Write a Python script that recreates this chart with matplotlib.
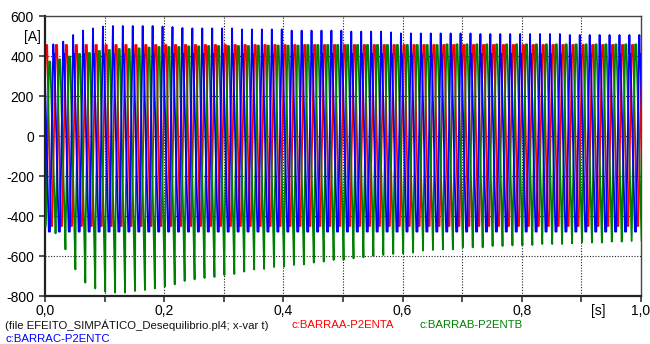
import matplotlib
matplotlib.use('Agg')
import matplotlib.pyplot as plt
import numpy as np

plt.rcParams['font.family'] = ['Liberation Sans', 'DejaVu Sans']

FREQ = 60.0
T = 1.0 / FREQ

# phase A (red): clipped wave, flat top / flat bottom
red_first_peak = 0.0025
red_top = 455
red_bottom = -450

# phase B (green): negative spike each cycle, decaying slowly
green_first_spike = 0.001
green_spike = [-453, -487, -567, -667, -733, -762, -778, -783, -783, -775,
               -770, -762, -753, -742, -725, -717, -710, -705, -695, -690,
               -678, -667, -665, -655, -653, -645, -642, -633, -628, -620,
               -620, -612, -607, -600, -595, -590, -587, -583, -573, -570,
               -567, -567, -557, -557, -557, -550, -550, -547, -547, -545,
               -540, -540, -540, -537, -533, -533, -533, -528, -528, -525,
               -525]
green_top = [372, 383, 397, 410, 415, 425, 430, 435, 435, 438,
             442, 445, 445, 445, 448, 448, 450, 450, 450, 450,
             450, 452, 452, 452, 452, 452, 455, 455, 455, 455,
             455, 455, 455, 455, 455, 455, 455, 455, 455, 455,
             458, 458, 458, 458, 458, 458, 458, 458, 458, 458,
             458, 458, 458, 458, 458, 458, 458, 458, 458, 458,
             458]
green_floor = -440

# phase C (blue): positive spike each cycle
blue_first_peak = 0.0139
blue_peak = [458, 472, 505, 527, 538, 547, 550, 550, 550, 550,
             550, 547, 545, 540, 538, 538, 538, 538, 538, 533,
             533, 533, 533, 533, 527, 527, 527, 527, 527, 527,
             522, 522, 522, 522, 518, 513, 513, 513, 513, 513,
             513, 513, 513, 510, 510, 510, 510, 510, 510, 510,
             510, 510, 505, 505, 505, 505, 505, 505, 505, 505]
blue_shoulder = 410
blue_bottom = -478

x_ticks = [0.0, 0.1, 0.2, 0.3, 0.4, 0.5, 0.6, 0.7, 0.8, 0.9, 1.0]
x_labels = ['0,0', '', '0,2', '', '0,4', '', '0,6', '', '0,8', '', '1,0']
y_ticks = [-800, -600, -400, -200, 0, 200, 400, 600]


def red_wave():
    t, v = [], []
    for k in range(-1, 61):
        c = red_first_peak + k * T
        t += [c - 0.07 * T, c + 0.07 * T, c + 0.43 * T, c + 0.57 * T]
        v += [red_top, red_top, red_bottom, red_bottom]
    return t, v


def green_wave():
    t, v = [], []
    for k in range(len(green_spike)):
        s = green_first_spike + k * T
        t += [s, s + 0.03 * T, s + 0.35 * T, s + 0.47 * T]
        v += [green_spike[k], green_floor, green_top[k], green_top[k]]
    return t, v


def blue_wave():
    t, v = [], []
    for k in range(-1, 61):
        c = blue_first_peak + k * T
        p = blue_peak[min(max(k, 0), len(blue_peak) - 1)]
        t += [c - 0.33 * T, c, c + 0.03 * T, c + 0.1 * T, c + 0.55 * T]
        v += [blue_bottom, p, blue_shoulder, blue_shoulder, blue_bottom]
    return t, v


fig = plt.figure(figsize=(6.5, 3.44), dpi=100)
ax = fig.add_axes([45 / 650, 1 - 296 / 344, 596 / 650, 280 / 344])

for y in [-600, -400, -200, 0, 200, 400]:
    ax.axhline(y, color='#222222', lw=0.8, ls=(0, (1, 1.5)), zorder=1)
for x in [0.1, 0.2, 0.3, 0.4, 0.5, 0.6, 0.7, 0.8, 0.9]:
    ax.axvline(x, color='#222222', lw=0.8, ls=(0, (1, 1.5)), zorder=1)

tr, vr = red_wave()
tg, vg = green_wave()
tb, vb = blue_wave()
ax.plot(tr, vr, color='#ff0000', lw=1.3, zorder=2)
ax.plot(tg, vg, color='#008000', lw=1.3, zorder=3)
ax.plot(tb, vb, color='#0000ff', lw=1.3, zorder=4)

ax.set_xlim(0, 1)
ax.set_ylim(-800, 600)
ax.set_xticks(x_ticks)
ax.set_xticklabels(x_labels)
ax.set_yticks(y_ticks)
ax.set_yticklabels([str(y) for y in y_ticks])
ax.tick_params(direction='out', length=4, width=1.2, color='#333333',
               labelsize=10)
ax.tick_params(axis='x', pad=1.5)
ax.tick_params(axis='y', pad=4)
for side in ['left', 'bottom']:
    ax.spines[side].set_linewidth(1.6)
    ax.spines[side].set_color('#222222')
for side in ['top', 'right']:
    ax.spines[side].set_linewidth(1.0)
    ax.spines[side].set_color('#444444')

fig.text(41 / 650, 1 - 37.5 / 344, '[A]', ha='right', va='center', fontsize=10)
fig.text(598 / 650, 1 - 310.5 / 344, '[s]', ha='center', va='center', fontsize=10)

fig.text(5 / 650, 1 - 325 / 344,
         '(file EFEITO_SIMPÁTICO_Desequilibrio.pl4; x-var t)',
         ha='left', va='center', fontsize=8.2, color='#111111')
fig.text(292 / 650, 1 - 325 / 344, 'c:BARRAA-P2ENTA',
         ha='left', va='center', fontsize=8.2, color='#ff0000')
fig.text(419 / 650, 1 - 325 / 344, 'c:BARRAB-P2ENTB',
         ha='left', va='center', fontsize=8.2, color='#008000')
fig.text(5 / 650, 1 - 338.5 / 344, 'c:BARRAC-P2ENTC',
         ha='left', va='center', fontsize=8.2, color='#0000ff')

fig.savefig('out.png', dpi=100)
